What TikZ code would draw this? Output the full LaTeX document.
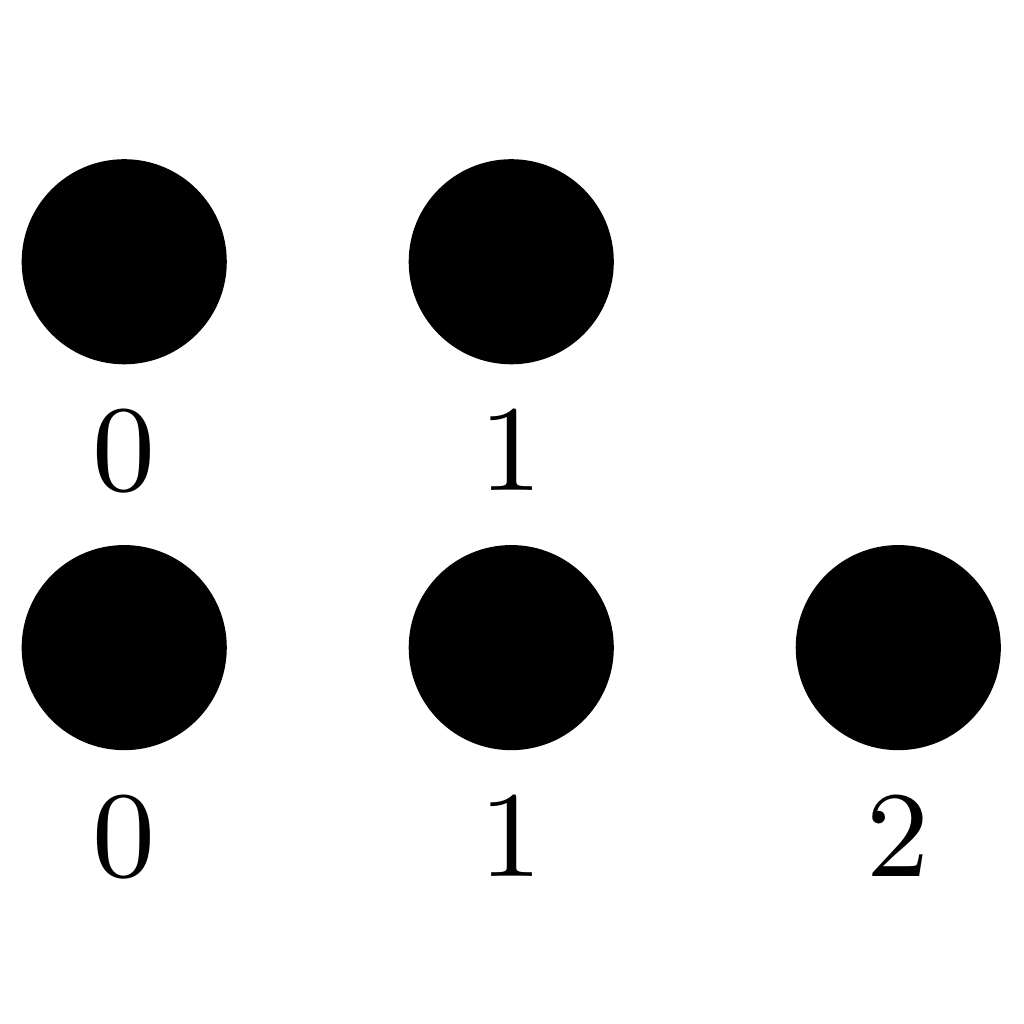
\documentclass[tikz,border=0pt]{standalone}
\begin{document}
\begin{tikzpicture}[
  dot/.style={circle, fill=black, inner sep=0pt, minimum size=0.53cm},
  lbl/.style={anchor=base, inner sep=0pt, font=\fontsize{9}{11}\selectfont}
]
\useasboundingbox (-0.321,-1.9695) rectangle (2.325,0.6765);
\node[dot] (a0) at (0,0) {};
\node[dot] (a1) at (1,0) {};
\node[lbl] (la0) at (0,-0.592) {0};
\node[lbl] (la1) at (1,-0.592) {1};
\node[dot] (b0) at (0,-0.997) {};
\node[dot] (b1) at (1,-0.997) {};
\node[dot] (b2) at (2,-0.997) {};
\node[lbl] (lb0) at (0,-1.589) {0};
\node[lbl] (lb1) at (1,-1.589) {1};
\node[lbl] (lb2) at (2,-1.589) {2};
\end{tikzpicture}
\end{document}
